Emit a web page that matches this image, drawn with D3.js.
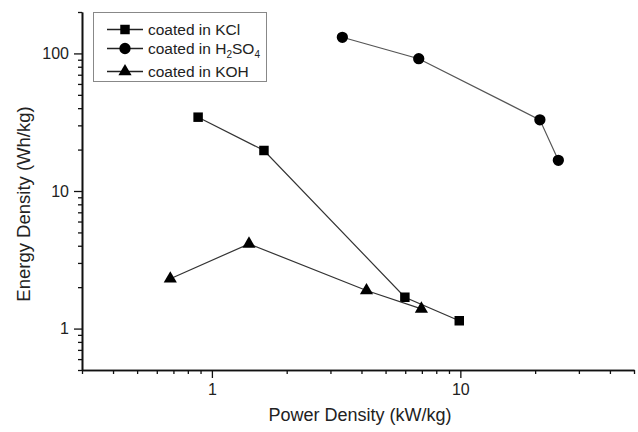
<!DOCTYPE html>
<html>
<head>
<meta charset="utf-8">
<script src="https://cdn.jsdelivr.net/npm/d3@7"></script>
<style>
  html, body { margin: 0; padding: 0; background: #fff; }
  svg { display: block; }
  text { font-family: "Liberation Sans", Arial, sans-serif; }
</style>
</head>
<body>
<svg id="chart" width="638" height="432"></svg>
<script>
// ---- data ----
const seriesNames = ["coated in KCl", "coated in H2SO4", "coated in KOH"];
const kclPower = [0.88, 1.62, 5.98, 9.9];
const kclEnergy = [34.4, 19.7, 1.69, 1.14];
const h2so4Power = [3.35, 6.8, 20.9, 24.8];
const h2so4Energy = [131, 91.5, 32.9, 16.7];
const kohPower = [0.68, 1.41, 4.19, 6.97];
const kohEnergy = [2.3, 4.13, 1.89, 1.39];
const xMajorTicks = [1, 10];
const xMinorTicks = [0.3, 0.4, 0.5, 0.6, 0.7, 0.8, 0.9, 2, 3, 4, 5, 6, 7, 8, 9, 20, 30, 40, 50];
const yMajorTicks = [1, 10, 100];
const yMinorTicks = [0.5, 0.6, 0.7, 0.8, 0.9, 2, 3, 4, 5, 6, 7, 8, 9, 20, 30, 40, 50, 60, 70, 80, 90, 200];
const xTitle = "Power Density (kW/kg)";
const yTitle = "Energy Density (Wh/kg)";

// ---- layout ----
const svg = d3.select("#chart");
const mLeft = 82, mRight = 634, mTop = 12, mBottom = 370;

const x = d3.scaleLog().domain([0.3, 50]).range([mLeft, mRight]);
const y = d3.scaleLog().domain([0.5, 200]).range([mBottom, mTop]);

const series = [
  { name: seriesNames[0], xs: kclPower, ys: kclEnergy, sym: d3.symbolSquare, size: 90, stroke: "#333" },
  { name: seriesNames[1], xs: h2so4Power, ys: h2so4Energy, sym: d3.symbolCircle, size: 100, stroke: "#555" },
  { name: seriesNames[2], xs: kohPower, ys: kohEnergy, sym: d3.symbolTriangle, size: 75, stroke: "#333" }
];

// ---- axes ----
const fmt = d => String(d);
const gx = svg.append("g").attr("transform", `translate(0,${mBottom})`);
gx.call(d3.axisBottom(x).tickValues(xMinorTicks).tickSize(4).tickSizeOuter(0).tickFormat(""));
gx.append("g").call(d3.axisBottom(x).tickValues(xMajorTicks).tickSize(8).tickSizeOuter(0).tickPadding(6).tickFormat(fmt));
const gy = svg.append("g").attr("transform", `translate(${mLeft},0)`);
gy.call(d3.axisLeft(y).tickValues(yMinorTicks).tickSize(4).tickSizeOuter(0).tickFormat(""));
gy.append("g").call(d3.axisLeft(y).tickValues(yMajorTicks).tickSize(8).tickSizeOuter(0).tickPadding(5).tickFormat(fmt));

svg.selectAll(".domain").attr("stroke", "#111").attr("stroke-width", 1.6);
svg.selectAll(".tick line").attr("stroke", "#111").attr("stroke-width", 1.3);
svg.selectAll(".tick text").attr("font-size", 16).attr("fill", "#222")
  .attr("font-family", "'Liberation Sans', Arial, sans-serif");

// titles
svg.append("text").attr("x", 360).attr("y", 421).attr("text-anchor", "middle")
  .attr("font-size", 18).attr("fill", "#222").text(xTitle);
svg.append("text").attr("transform", "translate(30,204) rotate(-90)").attr("text-anchor", "middle")
  .attr("font-size", 18.5).attr("fill", "#222").text(yTitle);

// ---- series ----
const line = d3.line().x(d => x(d[0])).y(d => y(d[1]));
series.forEach(s => {
  const pts = s.xs.map((v, i) => [v, s.ys[i]]);
  svg.append("path").datum(pts).attr("d", line)
    .attr("fill", "none").attr("stroke", s.stroke).attr("stroke-width", 1.2);
  svg.append("g").selectAll("path").data(pts).join("path")
    .attr("transform", d => `translate(${x(d[0])},${y(d[1])})`)
    .attr("d", d3.symbol().type(s.sym).size(s.size))
    .attr("fill", "#000");
});

// ---- legend ----
const lg = svg.append("g");
lg.append("rect").attr("x", 93.5).attr("y", 12.5).attr("width", 173).attr("height", 69)
  .attr("fill", "#fff").attr("stroke", "#888").attr("stroke-width", 1);
const rowY = [29.5, 48.5, 71.5];
series.forEach((s, i) => {
  lg.append("line").attr("x1", 107).attr("x2", 143).attr("y1", rowY[i]).attr("y2", rowY[i])
    .attr("stroke", "#222").attr("stroke-width", 1.3);
  lg.append("path").attr("transform", `translate(125,${rowY[i]})`)
    .attr("d", d3.symbol().type(s.sym).size(s.size)).attr("fill", "#000");
  const t = lg.append("text").attr("x", 148).attr("y", rowY[i] + 5.5)
    .attr("font-size", 15.5).attr("fill", "#222");
  if (i === 1) {
    t.append("tspan").text("coated in H");
    t.append("tspan").attr("font-size", 10).attr("dy", 4).text("2");
    t.append("tspan").attr("dy", -4).text("SO");
    t.append("tspan").attr("font-size", 10).attr("dy", 4).text("4");
  } else {
    t.text(s.name);
  }
});
</script>
</body>
</html>
